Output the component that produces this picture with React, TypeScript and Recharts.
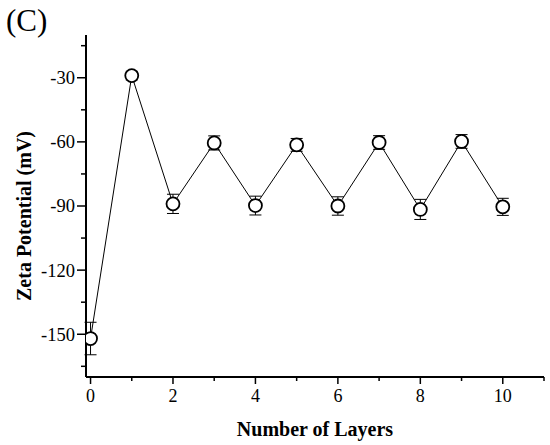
import React from "react";
import { ComposedChart, Line, XAxis, YAxis, ErrorBar } from "recharts";

const layers = [0, 1, 2, 3, 4, 5, 6, 7, 8, 9, 10];
const zeta = [-152, -29, -89, -60.5, -89.8, -61.4, -90, -60.3, -91.6, -59.8, -90.4];
const zetaErr = [7.6, 2, 4.5, 3.3, 4.4, 3, 4.3, 3.2, 4.7, 3.2, 4];
const xTicks = [0, 1, 2, 3, 4, 5, 6, 7, 8, 9, 10, 11];
const xMajor = [0, 2, 4, 6, 8, 10];
const yTicks = [-165, -150, -135, -120, -105, -90, -75, -60, -45, -30, -15];
const yMajor = [-150, -120, -90, -60, -30];

const data = layers.map((l, i) => ({ layer: l, zeta: zeta[i], err: zetaErr[i] }));

const FONT = "'Liberation Serif', 'Times New Roman', serif";

const XTick = (props: any) => {
  const { x, y, payload } = props;
  const v = payload.value;
  const major = xMajor.includes(v);
  return (
    <g>
      <line x1={x} x2={x} y1={y} y2={y + (major ? 7 : 4)} stroke="#000" strokeWidth={1.5} />
      {major && (
        <text x={x} y={y + 25} textAnchor="middle" fontFamily={FONT} fontSize={18} fill="#000">
          {v}
        </text>
      )}
    </g>
  );
};

const YTick = (props: any) => {
  const { x, y, payload } = props;
  const v = payload.value;
  const major = yMajor.includes(v);
  return (
    <g>
      <line x1={x} x2={x - (major ? 9 : 5)} y1={y} y2={y} stroke="#000" strokeWidth={1.5} />
      {major && (
        <text x={x - 11} y={y} dy="0.35em" textAnchor="end" fontFamily={FONT} fontSize={18.5} fill="#000">
          {v}
        </text>
      )}
    </g>
  );
};

export default function App() {
  return (
    <div style={{ position: "absolute", left: 0, top: 0, width: 550, height: 445, background: "#fff" }}>
      <ComposedChart
        width={550}
        height={445}
        data={data}
        margin={{ top: 35, right: 6, bottom: 0, left: 0 }}
      >
        <XAxis
          dataKey="layer"
          type="number"
          domain={[-0.11, 11]}
          ticks={xTicks}
          interval={0}
          height={68}
          tickSize={0}
          tickMargin={0}
          tickLine={false}
          tick={<XTick />}
          axisLine={{ stroke: "#000", strokeWidth: 2 }}
          allowDataOverflow
        />
        <XAxis
          xAxisId="top"
          orientation="top"
          type="number"
          domain={[-0.11, 11]}
          height={0}
          tick={false}
          tickLine={false}
          axisLine={{ stroke: "#000", strokeWidth: 2 }}
        />
        <YAxis
          type="number"
          domain={[-170, -10]}
          ticks={yTicks}
          interval={0}
          width={86}
          tickSize={0}
          tickMargin={0}
          tickLine={false}
          tick={<YTick />}
          axisLine={{ stroke: "#000", strokeWidth: 2 }}
          allowDataOverflow
        />
        <YAxis
          yAxisId="right"
          orientation="right"
          type="number"
          domain={[-170, -10]}
          width={0}
          tick={false}
          tickLine={false}
          axisLine={{ stroke: "#000", strokeWidth: 2 }}
        />
        <Line
          dataKey="zeta"
          stroke="#000"
          strokeWidth={1}
          isAnimationActive={false}
          dot={{ r: 6.5, fill: "#fff", stroke: "#000", strokeWidth: 1.8 }}
          activeDot={false}
        >
          <ErrorBar dataKey="err" direction="y" width={6} stroke="#000" strokeWidth={1} />
        </Line>
      </ComposedChart>
      <svg
        width={550}
        height={445}
        style={{ position: "absolute", left: 0, top: 0, pointerEvents: "none" }}
      >
        <text x={6} y={31} fontFamily={FONT} fontSize={31} fill="#000">
          (C)
        </text>
        <text
          transform="translate(31, 216) rotate(-90)"
          textAnchor="middle"
          fontFamily={FONT}
          fontWeight="bold"
          fontSize={20}
          fill="#000"
        >
          Zeta Potential (mV)
        </text>
        <text x={315} y={436} textAnchor="middle" fontFamily={FONT} fontWeight="bold" fontSize={20} fill="#000">
          Number of Layers
        </text>
      </svg>
    </div>
  );
}
